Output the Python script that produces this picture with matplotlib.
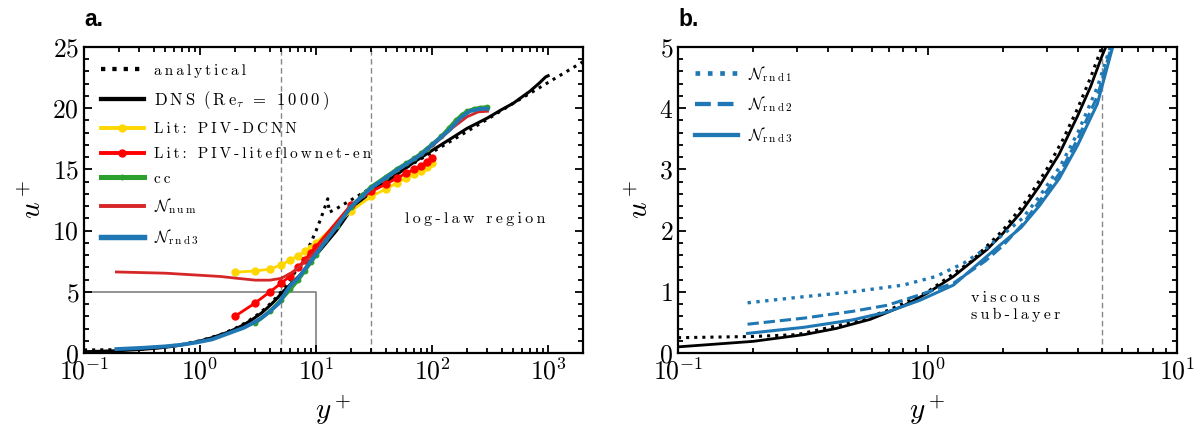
import matplotlib
matplotlib.use("Agg")
import matplotlib.pyplot as plt
from matplotlib.ticker import AutoMinorLocator

plt.rcParams['font.family'] = ['cmr10', 'DejaVu Serif']
plt.rcParams['mathtext.fontset'] = 'cm'
plt.rcParams['axes.formatter.use_mathtext'] = True
plt.rcParams['axes.unicode_minus'] = False

# analytical profile (linear sub-layer + log law)
ana_y = [0.1, 0.2, 0.3, 0.5, 0.7, 1, 1.5, 2, 2.5, 3, 3.5, 4, 4.5, 5, 6, 7, 8, 9, 10, 11, 12, 12.6,
         13, 15, 20, 30, 50, 100, 200, 300, 500, 1000, 2000]
ana_u = [0.25, 0.27, 0.3, 0.5, 0.7, 1, 1.5, 2, 2.5, 3, 3.5, 4, 4.5, 5, 6, 7, 8, 9, 10, 11, 12, 12.6,
         11.5, 11.8, 12.5, 13.5, 14.7, 16.4, 18.1, 19.1, 20.4, 22.1, 23.8]

# DNS Re_tau = 1000
dns_y = [0.1, 0.2, 0.32, 0.43, 0.59, 0.8, 1.0, 1.27, 1.73, 2.0, 2.37, 2.8, 3.37, 4.0, 4.5, 5.0, 5.5, 6, 7, 8,
         10, 12, 15, 20, 30, 50, 70, 100, 150, 200, 300, 400, 500, 700, 850, 950, 1000]
dns_u = [0.1, 0.19, 0.3, 0.4, 0.55, 0.77, 0.98, 1.25, 1.69, 1.95, 2.3, 2.72, 3.25, 3.88, 4.35, 4.85, 5.25, 5.6, 6.2, 6.8,
         8.0, 8.9, 10.0, 11.7, 13.2, 14.6, 15.6, 16.55, 17.6, 18.35, 19.2, 19.9, 20.4, 21.4, 22.1, 22.55, 22.65]

# literature PIV results
lit_y = [2, 3, 4, 5, 6, 7, 8, 9, 10, 20, 30, 40, 50, 60, 70, 80, 90, 100]
dcnn_u = [6.6, 6.7, 6.85, 7.2, 7.6, 7.95, 8.3, 8.6, 9.0, 11.6, 12.8, 13.4, 13.9, 14.3, 14.6, 14.9, 15.2, 15.5]
lfn_u = [3.0, 4.1, 5.0, 5.7, 6.3, 7.0, 7.6, 8.2, 8.7, 12.1, 13.2, 13.8, 14.3, 14.7, 15.0, 15.3, 15.6, 15.9]

# cross-correlation
cc_y = [3, 4, 5, 6, 7, 8, 9, 10, 12, 15, 20, 25, 30, 40, 50, 60, 70, 80, 90, 100,
        120, 140, 160, 180, 200, 230, 260, 300]
cc_u = [2.45, 3.4, 4.35, 5.2, 5.95, 6.7, 7.4, 8.0, 9.2, 10.4, 11.9, 12.9, 13.6, 14.4, 15.05, 15.5, 15.9, 16.3, 16.7, 17.05,
        17.7, 18.4, 19.0, 19.45, 19.75, 19.95, 20.05, 20.1]

# networks
num_y = [0.19, 0.5, 1, 1.5, 2, 3, 4, 5, 6, 7, 8, 10, 15, 20, 30, 50, 100, 150, 200, 250, 300]
num_u = [6.62, 6.52, 6.35, 6.25, 6.12, 5.95, 5.95, 6.1, 6.5, 6.95, 7.45, 8.35, 10.4, 11.95, 13.5, 14.9, 16.9, 18.4, 19.3, 19.7, 19.75]

rnd1_y = [0.19, 0.32, 0.5, 0.8, 1.08, 1.4, 1.73, 2.0, 2.4, 2.8, 3.4, 4.0, 4.8, 5.4, 6.0]
rnd1_u = [0.82, 0.92, 1.0, 1.11, 1.25, 1.47, 1.72, 1.93, 2.2, 2.55, 3.05, 3.6, 4.35, 5.0, 5.5]

rnd2_y = [0.19, 0.32, 0.5, 0.69, 0.93, 1.27, 1.7, 2.0, 2.4, 2.8, 3.4, 4.0, 4.8, 5.45, 6.0]
rnd2_u = [0.47, 0.57, 0.68, 0.78, 0.95, 1.14, 1.5, 1.75, 2.1, 2.47, 2.95, 3.5, 4.2, 5.0, 5.45]

rnd3_y = [0.19, 0.32, 0.5, 0.69, 0.93, 1.27, 1.73, 2.0, 2.37, 2.8, 3.37, 4.0, 4.79, 5.52, 6, 7, 10, 15, 20, 30,
          50, 80, 100, 140, 175, 210, 260, 300]
rnd3_u = [0.32, 0.42, 0.54, 0.67, 0.86, 1.11, 1.58, 1.8, 2.05, 2.4, 2.85, 3.4, 4.07, 5.0, 5.5, 6.1, 8.1, 10.3, 11.95, 13.5,
          14.95, 16.2, 17.0, 18.2, 19.2, 19.75, 19.95, 19.95]

BLUE = '#1f77b4'
TXT = 11


def spaced(s):
    # loose letter spacing for the annotation texts
    return '\u2009'.join(s)


fig = plt.figure(figsize=(11.99, 4.30), dpi=100)
ax1 = fig.add_axes([0.0701, 0.1791, 0.4162, 0.7116])
ax2 = fig.add_axes([0.5655, 0.1791, 0.4162, 0.7116])

# ---- a. full profile
ax1.axvline(5, color='#888888', lw=1.0, ls=(0, (4, 2.5)), zorder=1)
ax1.axvline(30, color='#888888', lw=1.0, ls=(0, (4, 2.5)), zorder=1)
ax1.plot([0.1, 10, 10], [5, 5, 0], color='#808080', lw=1.2, zorder=1)

ax1.plot(ana_y, ana_u, ':', color='black', lw=2.2, label=spaced('analytical'))
ax1.plot(dns_y, dns_u, '-', color='black', lw=2.2,
         label=r'$\mathrm{D\:N\:S\;\;(\:R\:e}_\tau\;\:=\;\:\mathrm{1\:0\:0\:0\:)}$')
ax1.plot(lit_y, dcnn_u, '-o', color='#FFD700', lw=2.0, ms=5, label=spaced('Lit: PIV-DCNN'))
ax1.plot(lit_y, lfn_u, '-o', color='#FF0000', lw=2.0, ms=5, label=spaced('Lit: PIV-liteflownet-en'))
ax1.plot(cc_y, cc_u, '-o', color='#2ca02c', lw=2.6, ms=3.2, label=spaced('cc'))
ax1.plot(num_y, num_u, '-', color='#d62728', lw=2.0, label=r'$\mathcal{N}_\mathrm{n\:u\:m}$')
ax1.plot(rnd3_y, rnd3_u, '-', color=BLUE, lw=2.8, label=r'$\mathcal{N}_\mathrm{r\:n\:d\:3}$')

ax1.text(58, 10.95, spaced('log-law region'), fontsize=11.5, va='center', ha='left')

ax1.set_xscale('log')
ax1.set_xlim(0.1, 2000)
ax1.set_ylim(0, 25)
ax1.set_yticks([0, 5, 10, 15, 20, 25])
ax1.text(0.0, 1.07, 'a.', transform=ax1.transAxes, fontsize=16.5, fontweight='bold',
         family='Liberation Sans', ha='left', va='baseline')

# ---- b. viscous sub-layer
ax2.axvline(5, color='#888888', lw=1.0, ls=(0, (4, 2.5)), zorder=1)
ax2.plot(ana_y, ana_u, ':', color='black', lw=2.2)
ax2.plot(dns_y, dns_u, '-', color='black', lw=2.0)
ax2.plot(rnd1_y, rnd1_u, ':', color=BLUE, lw=2.4, label=r'$\mathcal{N}_\mathrm{r\:n\:d\:1}$')
ax2.plot(rnd2_y, rnd2_u, '--', color=BLUE, lw=2.2, label=r'$\mathcal{N}_\mathrm{r\:n\:d\:2}$')
ax2.plot(rnd3_y, rnd3_u, '-', color=BLUE, lw=2.2, label=r'$\mathcal{N}_\mathrm{r\:n\:d\:3}$')

ax2.text(1.5, 0.75, spaced('viscous') + '\n' + spaced('sub-layer'), fontsize=11.5,
         va='center', ha='left', linespacing=1.25)

ax2.set_xscale('log')
ax2.set_xlim(0.1, 10)
ax2.set_ylim(0, 5)
ax2.text(0.0, 1.07, 'b.', transform=ax2.transAxes, fontsize=16.5, fontweight='bold',
         family='Liberation Sans', ha='left', va='baseline')

for ax in (ax1, ax2):
    leg = ax.legend(loc='upper left', frameon=False, fontsize=TXT, handlelength=2.8,
                    handletextpad=0.7, labelspacing=0.72, borderpad=0.6)
    for h in leg.legend_handles:
        h.set_linewidth(h.get_linewidth() * 1.4)
    # math labels are set a bit larger than the plain ones
    for t in leg.get_texts():
        if t.get_text().startswith(r'$\mathcal'):
            t.set_fontsize(11.5)
        elif t.get_text().startswith(r'$\mathrm{D'):
            t.set_fontsize(12)
    ax.yaxis.set_minor_locator(AutoMinorLocator())
    ax.tick_params(which='both', direction='in', top=True, right=True, labelsize=18.5, width=1.3)
    ax.tick_params(which='major', length=6)
    ax.tick_params(which='minor', length=3.5)
    for s in ax.spines.values():
        s.set_linewidth(1.6)
    ax.set_xlabel(r'$y^+$', fontsize=21, labelpad=6)
    ax.set_ylabel(r'$u^+$', fontsize=21, labelpad=4)

fig.savefig('out.png', dpi=100)
